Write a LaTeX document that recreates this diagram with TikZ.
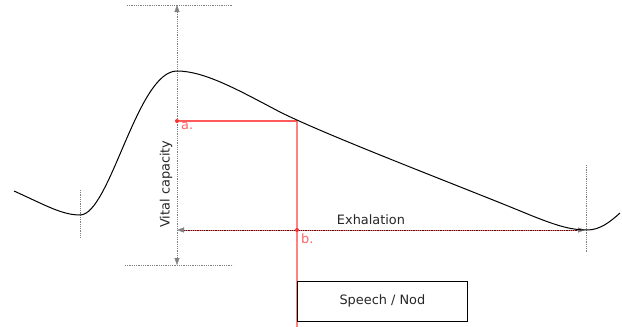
\documentclass[tikz,border=0pt]{standalone}
\usepackage{fontspec}
\setmainfont{DejaVu Sans}
\usetikzlibrary{arrows.meta}
\definecolor{axisgray}{RGB}{128,128,128}
\definecolor{mred}{RGB}{250,50,50}
\definecolor{hred}{RGB}{255,90,90}
\definecolor{pred}{RGB}{255,130,130}
\definecolor{lred}{RGB}{255,100,100}
\definecolor{dred}{RGB}{60,20,20}
\begin{document}
\begin{tikzpicture}[x=1pt,y=-1pt,
  guide/.style={draw=axisgray,densely dotted,line width=0.8pt},
  arrs/.style={{Triangle[length=7pt,width=5pt,color=axisgray,fill=axisgray,line width=0.3pt]}-{Triangle[length=7pt,width=5pt,color=axisgray,fill=axisgray,line width=0.3pt]}},
  lbl/.style={font=\fontsize{12.9}{15}\selectfont,text=black!85,inner sep=0pt},
  redlbl/.style={font=\fontsize{12.9}{15}\selectfont,text=lred,inner sep=0pt},
  dot/.style={circle,fill=mred,inner sep=0pt,minimum size=4pt},
  box/.style={draw=black,line width=0.8pt,minimum width=170pt,minimum height=40pt,inner sep=0pt,font=\fontsize{12.9}{15}\selectfont,text=black!85}]
\useasboundingbox (0,0) rectangle (622,327);
% coordinates
\coordinate (top) at (177,5);
\coordinate (bot) at (177,265);
\coordinate (tl) at (127,5);
\coordinate (tr) at (233,5);
\coordinate (bl) at (125,265);
\coordinate (br) at (233,265);
\coordinate (exl) at (177,230);
\coordinate (exr) at (585,230);
\coordinate (t1a) at (80,190);
\coordinate (t1b) at (80,238);
\coordinate (t2a) at (586,165);
\coordinate (t2b) at (586,252);
\coordinate (rbot) at (297,327);
\coordinate (cp) at (297,121);
% guides
\draw[guide] (tl) -- (tr);
\draw[guide] (bl) -- (br);
\draw[guide] (t1a) -- (t1b);
\draw[guide] (t2a) -- (t2b);
\draw[guide,arrs] (top) -- (bot);
% red lines
\draw[color=pred,line width=1.5pt] (cp) -- (rbot);
\draw[color=hred,line width=1.2pt] (177,121) -- (cp);
% exhalation arrow
\draw[color=pred!80!red,line width=0.9pt,shorten <=6pt,shorten >=6pt] (exl) -- (exr);
\draw[draw=dred,densely dotted,line width=0.8pt,arrs] (exl) -- (exr);
\node[dot] (a) at (177,121) {};
\node[dot] (b) at (297,230) {};
\node[redlbl,anchor=north west] (alab) at (181,122) {a.};
\node[redlbl,anchor=north west] (blab) at (301,233) {b.};
% curve
\draw[black,line width=1pt] (14,191) .. controls (45,205) and (62,215) .. (80,215)
  .. controls (110,215) and (137,71) .. (177,71)
  .. controls (205,71) and (240,91) .. (280,112)
  .. controls (330,137) and (470,190) .. (530,215)
  .. controls (555,225) and (570,230) .. (587,230)
  .. controls (600,230) and (610,222) .. (620,213);
% labels
\node[lbl] (ex) at (371,220) {Exhalation};
\node[lbl,rotate=90] (vc) at (166,184) {Vital capacity};
\node[box,anchor=north west] (sn) at (297,281) {Speech / Nod};
\end{tikzpicture}
\end{document}
